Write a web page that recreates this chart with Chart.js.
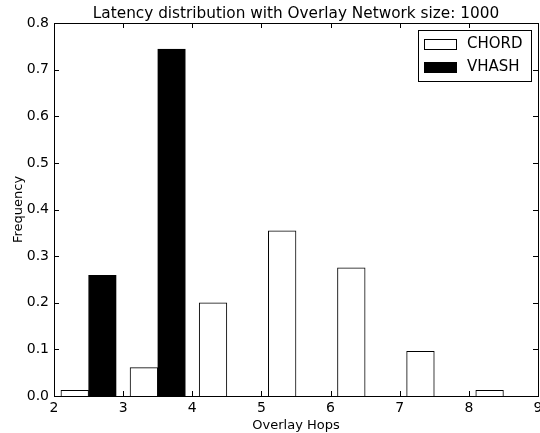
<!DOCTYPE html>
<html lang="en">
<head>
    <meta charset="UTF-8">
    <title>Latency distribution</title>
    <style>
        html, body { margin: 0; padding: 0; background: #ffffff; }
        #wrap { width: 540px; height: 433px; }
    </style>
</head>
<body>
    <div id="wrap"><canvas id="histChart"></canvas></div>

    <script src="https://cdn.jsdelivr.net/npm/chart.js"></script>
    <script>
        // Bar centres (overlay hops) and frequencies
        const chordHops = [2.3, 3.3, 4.3, 5.3, 6.3, 7.3, 8.3];
        const chordFreq = [0.012, 0.061, 0.200, 0.354, 0.275, 0.096, 0.012];
        const vhashHops = [2.7, 3.7];
        const vhashFreq = [0.259, 0.744];

        const xTicks = [2, 3, 4, 5, 6, 7, 8, 9];
        const yTicks = [0.0, 0.1, 0.2, 0.3, 0.4, 0.5, 0.6, 0.7, 0.8];

        const titleText = 'Latency distribution with Overlay Network size: 1000';
        const fontFamily = '"DejaVu Sans", sans-serif';

        const toPoints = (xs, ys) => xs.map((x, i) => ({ x: x, y: ys[i] }));

        // frame, inward ticks, title and legend drawn the matplotlib way
        const mplFrame = {
            id: 'mplFrame',
            afterDatasetsDraw(chart) {
                const { ctx, chartArea: a, scales } = chart;
                const len = 5;
                ctx.save();
                ctx.strokeStyle = '#000';
                ctx.lineWidth = 1;
                ctx.beginPath();
                xTicks.forEach(v => {
                    const px = Math.round(scales.x.getPixelForValue(v)) + 0.5;
                    ctx.moveTo(px, a.bottom); ctx.lineTo(px, a.bottom - len);
                    ctx.moveTo(px, a.top); ctx.lineTo(px, a.top + len);
                });
                yTicks.forEach(v => {
                    const py = Math.round(scales.y.getPixelForValue(v)) + 0.5;
                    ctx.moveTo(a.left, py); ctx.lineTo(a.left + len, py);
                    ctx.moveTo(a.right, py); ctx.lineTo(a.right - len, py);
                });
                ctx.stroke();
                ctx.strokeRect(Math.round(a.left) + 0.5, Math.round(a.top) + 0.5,
                    Math.round(a.right - a.left), Math.round(a.bottom - a.top));

                // title
                ctx.fillStyle = '#000';
                ctx.font = '15.3px ' + fontFamily;
                ctx.textAlign = 'center';
                ctx.textBaseline = 'alphabetic';
                ctx.fillText(titleText, (a.left + a.right) / 2, 18);

                // legend box
                const lx = 418, ly = 30, lw = 113, lh = 51;
                ctx.fillStyle = '#fff';
                ctx.fillRect(lx, ly, lw, lh);
                ctx.strokeRect(lx + 0.5, ly + 0.5, lw, lh);
                chart.data.datasets.forEach((ds, i) => {
                    const py = ly + 9 + i * 23;
                    ctx.fillStyle = ds.backgroundColor;
                    ctx.fillRect(lx + 6, py, 32, 10);
                    ctx.strokeStyle = '#000';
                    ctx.strokeRect(lx + 6.5, py + 0.5, 32, 10);
                    ctx.fillStyle = '#000';
                    ctx.font = '15px ' + fontFamily;
                    ctx.textAlign = 'left';
                    ctx.textBaseline = 'middle';
                    ctx.fillText(ds.label, lx + 49, py + 5);
                });
                ctx.restore();
            }
        };

        new Chart(document.getElementById('histChart'), {
            type: 'bar',
            data: {
                datasets: [{
                    label: 'CHORD',
                    data: toPoints(chordHops, chordFreq),
                    backgroundColor: '#ffffff',
                    borderColor: '#000000',
                    borderWidth: 1
                }, {
                    label: 'VHASH',
                    data: toPoints(vhashHops, vhashFreq),
                    backgroundColor: '#000000',
                    borderColor: '#000000',
                    borderWidth: 1
                }]
            },
            options: {
                responsive: true,
                maintainAspectRatio: false,
                animation: false,
                grouped: false,
                barPercentage: 1.0,
                categoryPercentage: 1.0,
                layout: { padding: { top: 23, right: 2, left: 0, bottom: 0 } },
                plugins: {
                    legend: { display: false },
                    tooltip: { enabled: false },
                    title: { display: false }
                },
                scales: {
                    x: {
                        type: 'linear',
                        min: 2,
                        max: 9,
                        offset: false,
                        grid: { display: false, drawTicks: false },
                        border: { display: false },
                        afterBuildTicks: scale => { scale.ticks = xTicks.map(v => ({ value: v })); },
                        afterFit: scale => { scale.height = 37; scale.paddingRight = 0; scale.paddingLeft = 0; },
                        ticks: {
                            color: '#000',
                            padding: 4,
                            maxRotation: 0,
                            font: { family: fontFamily, size: 14 }
                        },
                        title: {
                            display: true,
                            text: 'Overlay Hops',
                            color: '#000',
                            padding: { top: 0, bottom: 0 },
                            font: { family: fontFamily, size: 13 }
                        }
                    },
                    y: {
                        min: 0,
                        max: 0.8,
                        grid: { display: false, drawTicks: false },
                        border: { display: false },
                        afterBuildTicks: scale => { scale.ticks = yTicks.map(v => ({ value: v })); },
                        afterFit: scale => { scale.width = 54; },
                        ticks: {
                            color: '#000',
                            padding: 5,
                            font: { family: fontFamily, size: 14 },
                            callback: v => Number(v).toFixed(1)
                        },
                        title: {
                            display: true,
                            text: 'Frequency',
                            color: '#000',
                            padding: { top: 11, bottom: 0 },
                            font: { family: fontFamily, size: 13 }
                        }
                    }
                }
            },
            plugins: [mplFrame]
        });
    </script>
</body>
</html>
